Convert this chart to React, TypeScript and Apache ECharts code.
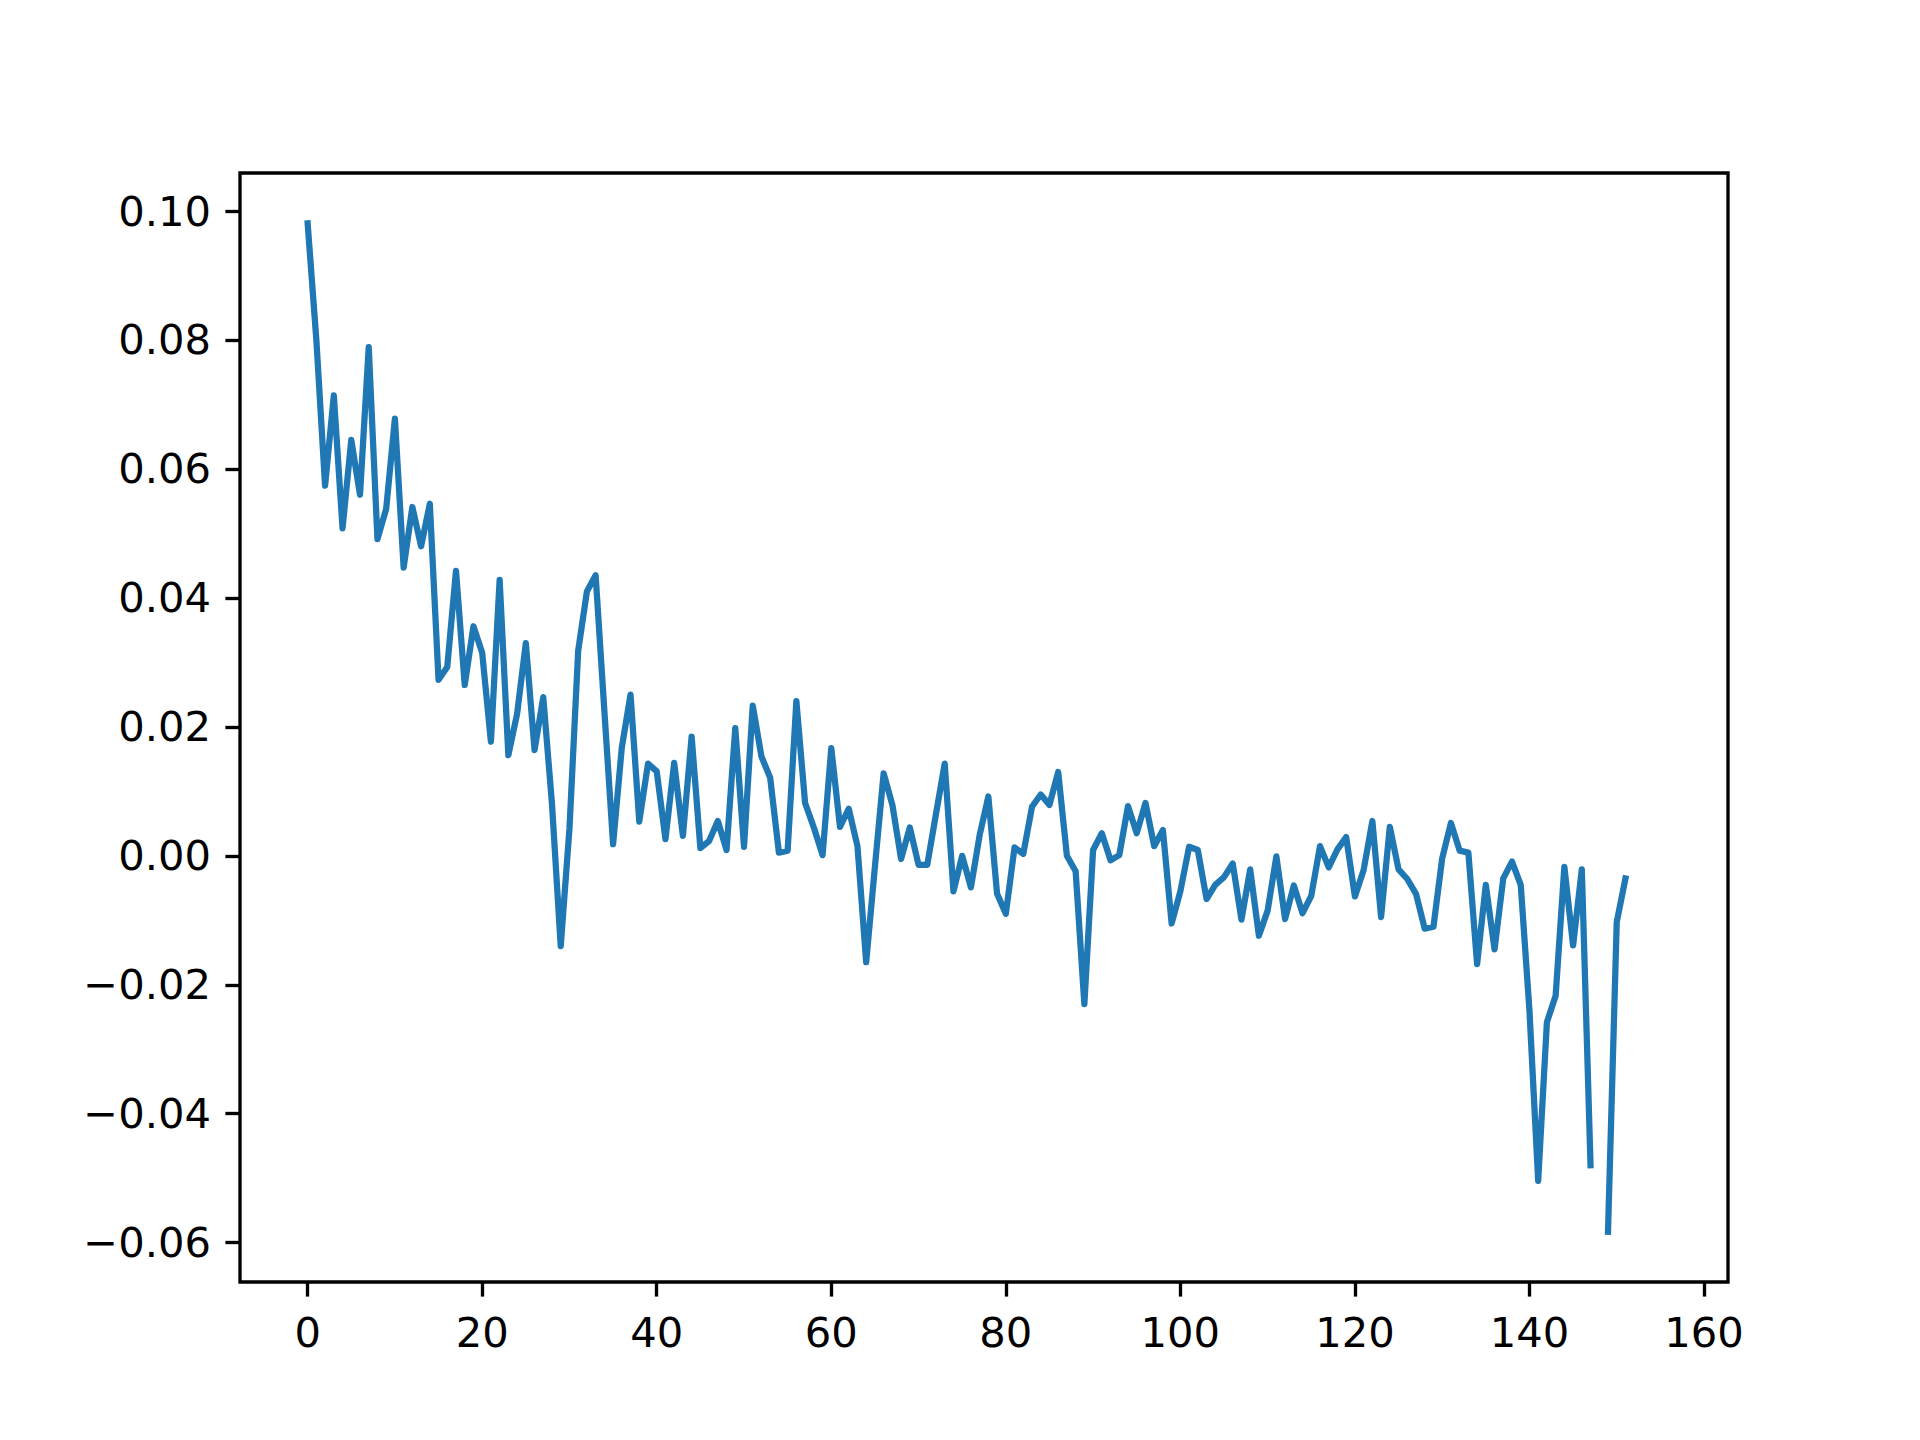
import React, { useEffect, useRef } from "react";
import * as echarts from "echarts";

const values: (number | null)[] = [
  0.0981, 0.080, 0.0574, 0.0714, 0.0508, 0.0645, 0.0560, 0.0789, 0.0491, 0.0538,
  0.0678, 0.0447, 0.0541, 0.0480, 0.0546, 0.0273, 0.0293, 0.0442, 0.0265, 0.0356,
  0.0315, 0.0177, 0.0428, 0.0156, 0.0220, 0.0330, 0.0164, 0.0246, 0.0080, -0.0140,
  0.0042, 0.0318, 0.0410, 0.0435, 0.0225, 0.0018, 0.0168, 0.0250, 0.0053, 0.0143,
  0.0131, 0.0026, 0.0144, 0.0031, 0.0185, 0.0012, 0.0023, 0.0054, 0.0009, 0.0198,
  0.0014, 0.0233, 0.0154, 0.0121, 0.0005, 0.0008, 0.0240, 0.0082, 0.0044, 0.0001,
  0.0167, 0.0045, 0.0073, 0.0015, -0.0165, -0.0017, 0.0128, 0.0079, -0.0005, 0.0044,
  -0.0014, -0.0014, 0.0065, 0.0143, -0.0055, 0.0000, -0.0049, 0.0032, 0.0092, -0.0059,
  -0.0090, 0.0013, 0.0003, 0.0076, 0.0095, 0.0079, 0.0130, 0.0000, -0.0024, -0.0230,
  0.0009, 0.0035, -0.0007, 0.0001, 0.0077, 0.0035, 0.0082, 0.0015, 0.0040, -0.0105,
  -0.0055, 0.0014, 0.0009, -0.0067, -0.0045, -0.0033, -0.0012, -0.0099, -0.0021, -0.0124,
  -0.0085, -0.0001, -0.0098, -0.0046, -0.0089, -0.0062, 0.0015, -0.0018, 0.0010, 0.0029,
  -0.0063, -0.0022, 0.0054, -0.0095, 0.0045, -0.0021, -0.0036, -0.0059, -0.0113, -0.0110,
  -0.0004, 0.0051, 0.0008, 0.0005, -0.0168, -0.0045, -0.0145, -0.0035, -0.0009, -0.0045,
  -0.0240, -0.0504, -0.0258, -0.0217, -0.0017, -0.0139, -0.0021, -0.0480, null, -0.0583,
  -0.0103, -0.0035,
];

const xTicks = [0, 20, 40, 60, 80, 100, 120, 140, 160];
const yTicks = [-0.06, -0.04, -0.02, 0.0, 0.02, 0.04, 0.06, 0.08, 0.1];

const fmtY = (v: number) => {
  const s = Math.abs(v).toFixed(2);
  return v < -1e-9 ? "\u2212" + s : s;
};

export default function App() {
  const ref = useRef<HTMLDivElement>(null);
  useEffect(() => {
    if (!ref.current) return;
    const chart = echarts.init(ref.current, undefined, { renderer: "svg" });
    const font = { fontFamily: "DejaVu Sans", fontSize: 41.67, color: "#000" };
    chart.setOption({
      animation: false,
      backgroundColor: "#fff",
      grid: {
        left: 240,
        top: 173,
        width: 1488,
        height: 1109,
        show: true,
        borderColor: "#000",
        borderWidth: 3.33,
        backgroundColor: "transparent",
      },
      xAxis: {
        type: "value",
        position: "bottom",
        min: -7.75,
        max: 162.75,
        axisLine: { show: false, onZero: false },
        splitLine: { show: false },
        axisTick: {
          show: true,
          customValues: xTicks,
          length: 14.6,
          inside: false,
          lineStyle: { color: "#000", width: 3.33 },
        },
        axisLabel: {
          customValues: xTicks,
          margin: 29,
          ...font,
          formatter: (v: number) => String(v),
        },
      },
      yAxis: {
        type: "value",
        position: "left",
        min: -0.0661,
        max: 0.1059,
        axisLine: { show: false, onZero: false },
        splitLine: { show: false },
        axisTick: {
          show: true,
          customValues: yTicks,
          length: 14.6,
          inside: false,
          lineStyle: { color: "#000", width: 3.33 },
        },
        axisLabel: {
          customValues: yTicks,
          margin: 29,
          ...font,
          formatter: (v: number) => fmtY(v),
        },
      },
      series: [
        {
          type: "line",
          data: values.map((v, i) => [i, v]),
          showSymbol: false,
          connectNulls: false,
          clip: true,
          lineStyle: { color: "#1f77b4", width: 6.25, join: "round", cap: "square" },
          itemStyle: { color: "#1f77b4" },
        },
      ],
    });
    return () => chart.dispose();
  }, []);
  return (
    <div
      ref={ref}
      style={{ position: "fixed", left: 0, top: 0, width: 1920, height: 1440, background: "#fff" }}
    />
  );
}
